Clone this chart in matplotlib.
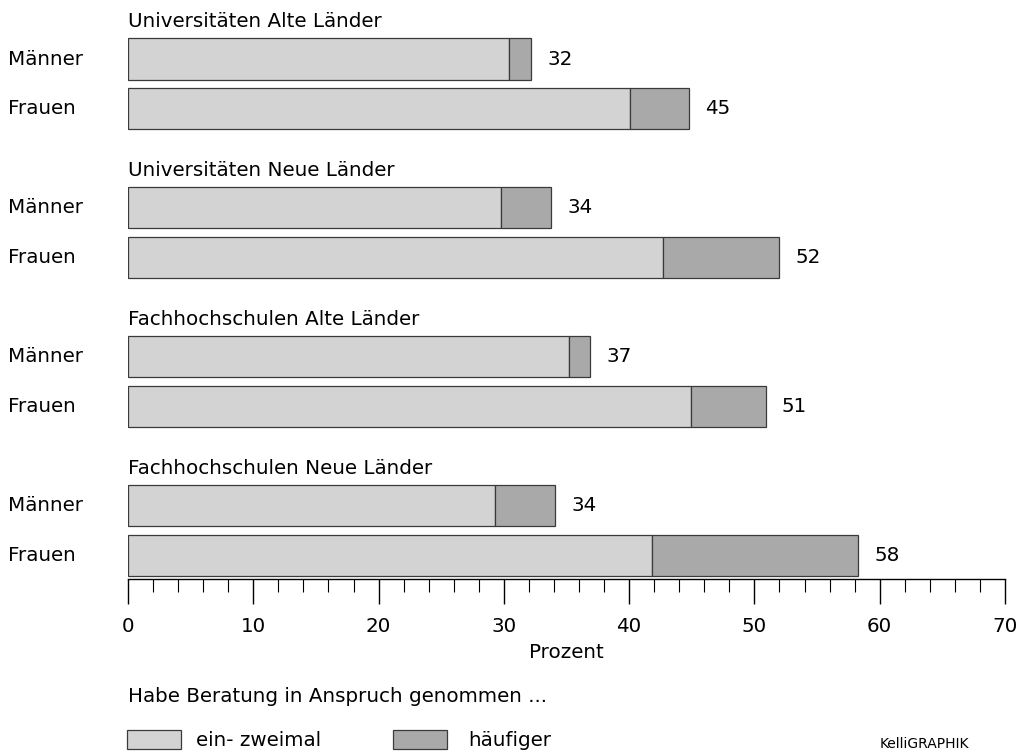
import matplotlib
matplotlib.use("Agg")
import matplotlib.pyplot as plt
from matplotlib.patches import Rectangle
from matplotlib.ticker import MultipleLocator
import matplotlib.transforms as mtrans

plt.rcParams['font.family'] = ['DejaVu Sans']

groups = ["Universitäten Alte Länder", "Universitäten Neue Länder",
          "Fachhochschulen Alte Länder", "Fachhochschulen Neue Länder"]
rows = ["Männer", "Frauen"]
einmal = [[30.4, 40.1], [29.8, 42.7], [35.2, 44.9], [29.3, 41.8]]
haeufiger = [[1.8, 4.7], [4.0, 9.3], [1.7, 6.0], [4.8, 16.5]]
totals = [[32, 45], [34, 52], [37, 51], [34, 58]]

light = "#d3d3d3"
dark = "#a9a9a9"
edge = "#3a3a3a"
fs = 14.3

W, H = 1023, 752
fig = plt.figure(figsize=(W / 100, H / 100), dpi=100)
ax = fig.add_axes([128 / W, 1 - 579 / H, 877 / W, 579 / H])

bh = 0.83
tr = mtrans.blended_transform_factory(fig.transFigure, ax.transData)
for i, g in enumerate(groups):
    base = 3 * i
    ax.text(0, base - 0.75, g, ha="left", va="center", fontsize=fs)
    for j, r in enumerate(rows):
        y = base + j
        a = einmal[i][j]
        b = haeufiger[i][j]
        ax.barh(y, a, height=bh, color=light, edgecolor=edge, linewidth=0.9)
        ax.barh(y, b, left=a, height=bh, color=dark, edgecolor=edge, linewidth=0.9)
        ax.annotate(str(totals[i][j]), xy=(a + b, y), xytext=(11.5, 0),
                    textcoords="offset points", ha="left", va="center", fontsize=fs)
        ax.text(8 / W, y, r, transform=tr, ha="left", va="center", fontsize=fs)

ax.set_xlim(0, 70)
ax.set_ylim(10.48, -1.19)
for s in ["left", "right", "top"]:
    ax.spines[s].set_visible(False)
ax.spines["bottom"].set_linewidth(1.0)
ax.set_yticks([])
ax.xaxis.set_major_locator(MultipleLocator(10))
ax.xaxis.set_minor_locator(MultipleLocator(2))
ax.tick_params(axis="x", which="major", length=18, width=1.0, direction="out",
               pad=9.5, labelsize=fs)
ax.tick_params(axis="x", which="minor", length=9.4, width=0.8, direction="out")
ax.set_xlabel("Prozent", fontsize=fs, labelpad=5)

fig.text(128 / W, 1 - 697 / H, "Habe Beratung in Anspruch genommen ...",
         ha="left", va="center", fontsize=fs)
for x0, col, lab, tx in [(127, light, "ein- zweimal", 196), (393, dark, "häufiger", 468)]:
    fig.patches.append(Rectangle((x0 / W, 1 - 749 / H), 54 / W, 19 / H,
                                 transform=fig.transFigure, facecolor=col,
                                 edgecolor=edge, linewidth=0.9))
    fig.text(tx / W, 1 - 740 / H, lab, ha="left", va="center", fontsize=fs)

fig.text(880 / W, 1 - 751 / H, "KelliGRAPHIK", ha="left", va="bottom", fontsize=10)

fig.savefig("out.png", dpi=100)
